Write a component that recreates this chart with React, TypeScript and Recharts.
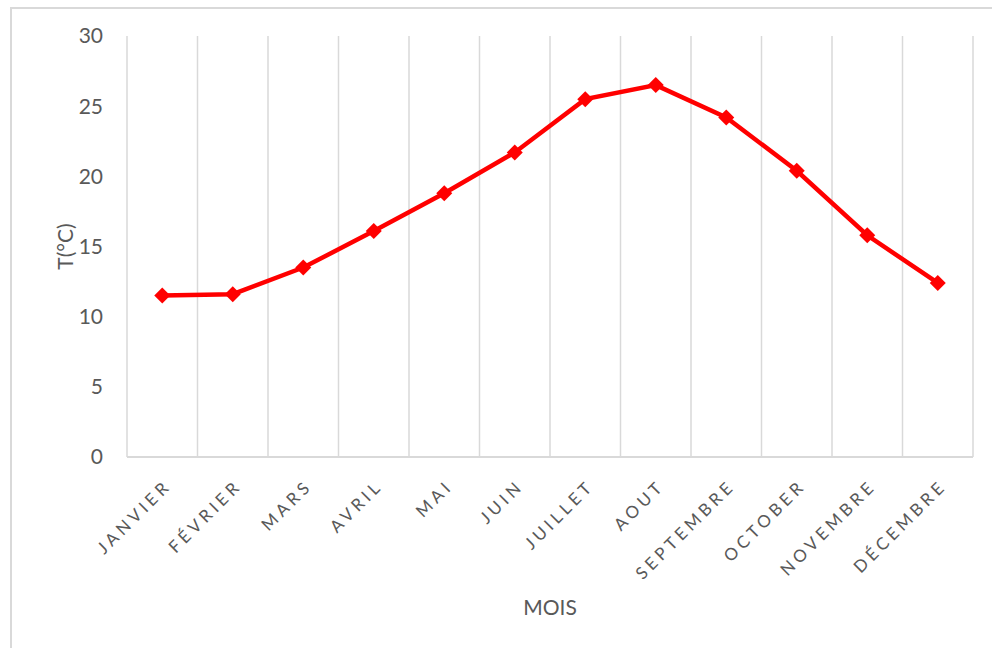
import React from 'react';
import { LineChart, Line, XAxis, YAxis, CartesianGrid } from 'recharts';

const months = ['JANVIER', 'FÉVRIER', 'MARS', 'AVRIL', 'MAI', 'JUIN', 'JUILLET', 'AOUT', 'SEPTEMBRE', 'OCTOBER', 'NOVEMBRE', 'DÉCEMBRE'];
const temperatures = [11.5, 11.6, 13.5, 16.1, 18.8, 21.7, 25.5, 26.5, 24.2, 20.4, 15.8, 12.4];
const yTicks = [0, 5, 10, 15, 20, 25, 30];

const data = months.map((m, i) => ({ month: m, t: temperatures[i] }));

const FONT = 'Lato, "Open Sans", sans-serif';
const TEXT = '#595959';
const GRID = '#d9d9d9';

const XTick = (props: any) => {
  const { x, y, payload } = props;
  const ax = x + 10;
  const ay = y + 30;
  return (
    <text
      x={ax}
      y={ay}
      transform={`rotate(-45 ${ax} ${ay})`}
      textAnchor="end"
      fill={TEXT}
      fontSize={17}
      letterSpacing={4}
      fontFamily={FONT}
    >
      {payload.value}
    </text>
  );
};

const Diamond = (props: any) => {
  const { cx, cy, index } = props;
  const r = 8;
  return (
    <path
      key={`d-${index}`}
      d={`M${cx},${cy - r}L${cx + r},${cy}L${cx},${cy + r}L${cx - r},${cy}Z`}
      fill="#FF0000"
    />
  );
};

const YLabel = (props: any) => {
  const { viewBox } = props;
  const cx = viewBox.x + 64;
  const cy = viewBox.y + viewBox.height / 2;
  return (
    <text
      x={cx}
      y={cy}
      transform={`rotate(-90 ${cx} ${cy})`}
      textAnchor="middle"
      dominantBaseline="central"
      fill={TEXT}
      fontSize={21}
      fontFamily={FONT}
    >
      T(°C)
    </text>
  );
};

const XLabel = (props: any) => {
  const { viewBox } = props;
  const cx = viewBox.x + viewBox.width / 2;
  const cy = viewBox.y + 149;
  return (
    <text
      x={cx}
      y={cy}
      textAnchor="middle"
      dominantBaseline="central"
      fill={TEXT}
      fontSize={21}
      fontFamily={FONT}
    >
      MOIS
    </text>
  );
};

export default function App() {
  return (
    <div style={{ position: 'absolute', left: 0, top: 0, width: 992, height: 648, overflow: 'hidden', background: '#fff' }}>
      <div
        style={{
          position: 'absolute',
          left: 10,
          top: 7,
          width: 1000,
          height: 700,
          border: `2px solid ${GRID}`,
          boxSizing: 'border-box',
        }}
      />
      <div style={{ position: 'absolute', left: 0, top: 0 }}>
        <LineChart width={992} height={648} data={data} margin={{ top: 36, right: 19, left: 0, bottom: 0 }}>
          <CartesianGrid
            horizontal={false}
            stroke={GRID}
            strokeWidth={1.5}
            verticalCoordinatesGenerator={({ offset }: any) =>
              Array.from({ length: months.length + 1 }, (_, i) => offset.left + (i * offset.width) / months.length)
            }
          />
          <XAxis
            dataKey="month"
            scale="band"
            interval={0}
            height={191}
            tickLine={false}
            tickSize={0}
            tickMargin={0}
            axisLine={{ stroke: GRID, strokeWidth: 2 }}
            tick={<XTick />}
            label={<XLabel />}
          />
          <YAxis
            width={127}
            domain={[0, 30]}
            ticks={yTicks}
            axisLine={false}
            tickLine={false}
            tickSize={0}
            tickMargin={24}
            tick={{ fill: TEXT, fontSize: 21, fontFamily: FONT }}
            label={<YLabel />}
          />
          <Line
            type="linear"
            dataKey="t"
            stroke="#FF0000"
            strokeWidth={4.5}
            dot={<Diamond />}
            activeDot={false}
            isAnimationActive={false}
          />
        </LineChart>
      </div>
    </div>
  );
}
